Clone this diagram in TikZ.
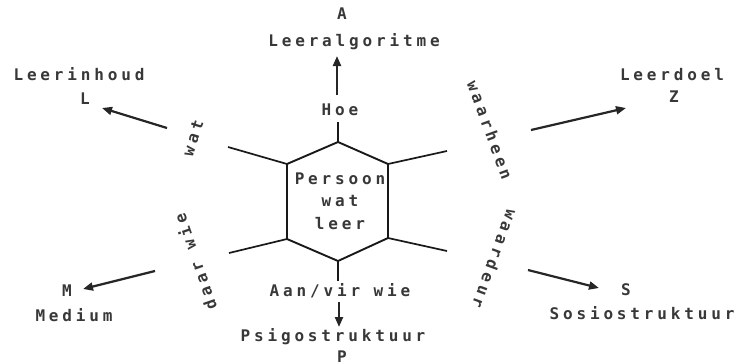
\documentclass[tikz,border=0pt]{standalone}
\usepackage{fontspec}
\setmonofont[LetterSpace=24]{DejaVu Sans Mono}
\usetikzlibrary{arrows.meta}
\begin{document}
\begin{tikzpicture}[x=1pt,y=-1pt,
  lbl/.style={font=\ttfamily\bfseries\fontsize{16}{22.5}\selectfont, text=black!78, inner sep=0pt, anchor=center},
  arr/.style={line width=2.2pt, draw=black!85, -{Triangle[length=10pt,width=8pt]}},
  hexline/.style={line width=1.9pt, draw=black!90, line join=round},
  spoke/.style={line width=1.7pt, draw=black!90}
]
\useasboundingbox (0,0) rectangle (736,362);

% hexagon
\coordinate (ht) at (338,142);
\coordinate (hul) at (287,164);
\coordinate (hur) at (388,164);
\coordinate (hll) at (287,239);
\coordinate (hlr) at (388,238);
\coordinate (hb) at (338,261);
\draw[hexline] (ht) -- (hur) -- (hlr) -- (hb) -- (hll) -- (hul) -- cycle;

% spokes
\coordinate (sul) at (228,147);
\coordinate (sur) at (447,151);
\coordinate (sll) at (229,253);
\coordinate (slr) at (447,251);
\coordinate (st) at (338,122);
\coordinate (sb) at (338,281);
\draw[spoke] (hul) -- (sul);
\draw[spoke] (hur) -- (sur);
\draw[spoke] (hll) -- (sll);
\draw[spoke] (hlr) -- (slr);
\draw[spoke] (ht) -- (st);
\draw[spoke] (hb) -- (sb);

% centre text
\node[lbl, align=center] (person) at (340,201) {Persoon\\wat\\leer};

% labels
\node[lbl] (A) at (342,14) {A};
\node[lbl] (algo) at (354,42) {Leeralgoritme};
\node[lbl] (hoe) at (340,110) {Hoe};
\node[lbl] (inhoud) at (79,74) {Leerinhoud};
\node[lbl] (L) at (85,99) {L};
\node[lbl] (doel) at (672,75) {Leerdoel};
\node[lbl] (Z) at (674,97) {Z};
\node[lbl] (M) at (67,291) {M};
\node[lbl] (medium) at (74,315) {Medium};
\node[lbl] (S) at (626,290) {S};
\node[lbl] (sosio) at (642,313) {Sosiostruktuur};
\node[lbl] (aan) at (340,291) {Aan/vir wie};
\node[lbl] (psigo) at (333,337) {Psigostruktuur};
\node[lbl] (P) at (342,357) {P};

% rotated labels
\node[lbl, rotate=72] (wat) at (193,138) {wat};
\node[lbl, rotate=109] (daar) at (195,262) {daar wie};
\node[lbl, rotate=-70] (heen) at (490,130) {waarheen};
\node[lbl, rotate=-110] (deur) at (495,259) {waardeur};

% arrows
\coordinate (aupS) at (337,95);
\coordinate (aupE) at (337,56);
\coordinate (aLS) at (167,128);
\coordinate (aLE) at (102,108);
\coordinate (aZS) at (531,130);
\coordinate (aZE) at (626,108);
\coordinate (aMS) at (155,271);
\coordinate (aME) at (83,289);
\coordinate (aSS) at (528,270);
\coordinate (aSE) at (599,288);
\coordinate (adS) at (339,302);
\coordinate (adE) at (339,327);
\draw[arr] (aupS) -- (aupE);
\draw[arr] (aLS) -- (aLE);
\draw[arr] (aZS) -- (aZE);
\draw[arr] (aMS) -- (aME);
\draw[arr] (aSS) -- (aSE);
\draw[arr] (adS) -- (adE);
\end{tikzpicture}
\end{document}
